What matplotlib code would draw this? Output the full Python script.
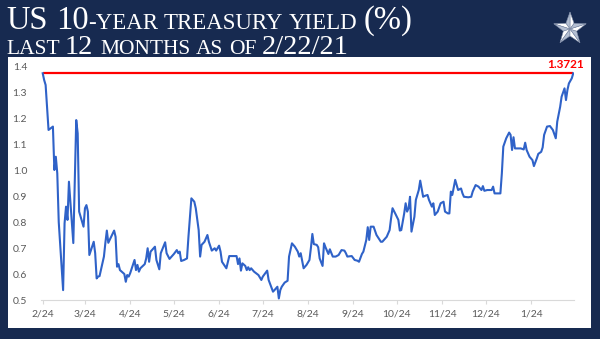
import numpy as np
import pandas as pd
import matplotlib
matplotlib.use('Agg')
import matplotlib.pyplot as plt
from matplotlib.patches import Rectangle, Polygon

# data: days after 2/24/2020 and 10-year yield (%)
start = pd.Timestamp('2020-02-24')
day_offsets = [0, 1, 2, 4, 7, 8, 9, 10, 11, 14, 15, 16, 17, 18, 21, 23, 24, 25, 28, 29,
               30, 31, 32, 35, 36, 37, 38, 39, 42, 43, 44, 45, 49, 50, 51, 52, 53, 56, 57, 58,
               59, 60, 63, 64, 65, 66, 67, 70, 71, 72, 73, 74, 77, 78, 80, 81, 84, 85, 87, 90,
               92, 93, 94, 95, 97, 99, 100, 102, 104, 105, 107, 108, 109, 111, 113, 114, 116, 118, 119, 121,
               122, 123, 126, 128, 130, 133, 134, 135, 136, 137, 139, 140, 141, 142, 143, 145, 148, 150, 151, 154,
               155, 158, 159, 161, 162, 163, 164, 166, 168, 169, 171, 173, 175, 176, 177, 179, 181, 183, 184, 185,
               186, 188, 189, 190, 192, 193, 194, 196, 197, 199, 201, 203, 205, 207, 208, 209, 212, 214, 216, 217,
               219, 220, 222, 223, 224, 225, 227, 229, 232, 233, 236, 238, 239, 240, 242, 244, 245, 246, 248, 249,
               250, 251, 252, 253, 255, 256, 258, 259, 261, 262, 264, 265, 267, 268, 269, 271, 273, 275, 276, 278,
               279, 280, 281, 283, 284, 285, 287, 288, 289, 292, 294, 295, 297, 299, 301, 302, 303, 305, 308, 309,
               310, 312, 314, 315, 316, 318, 320, 321, 322, 323, 324, 326, 328, 330, 331, 332, 334, 336, 337, 339,
               340, 342, 343, 344, 346, 348, 350, 352, 353, 355, 356, 358, 359, 360, 361, 363, 364]
yields = [1.372, 1.346, 1.327, 1.154, 1.167, 1.000, 1.051, 0.987, 0.800, 0.538, 0.795, 0.859, 0.808, 0.955, 0.719, 1.192, 1.141, 0.840, 0.782, 0.853,
          0.865, 0.840, 0.673, 0.724, 0.680, 0.583, 0.590, 0.592, 0.667, 0.720, 0.767, 0.720, 0.767, 0.743, 0.628, 0.638, 0.615, 0.600, 0.570, 0.596,
          0.590, 0.603, 0.654, 0.615, 0.635, 0.609, 0.622, 0.638, 0.660, 0.699, 0.647, 0.686, 0.705, 0.654, 0.618, 0.680, 0.722, 0.680, 0.658, 0.677,
          0.692, 0.680, 0.686, 0.650, 0.654, 0.660, 0.744, 0.891, 0.878, 0.853, 0.769, 0.667, 0.712, 0.724, 0.750, 0.724, 0.690, 0.699, 0.690, 0.709,
          0.686, 0.647, 0.622, 0.669, 0.669, 0.669, 0.638, 0.660, 0.613, 0.641, 0.631, 0.615, 0.626, 0.615, 0.622, 0.609, 0.596, 0.577, 0.590, 0.613,
          0.577, 0.532, 0.538, 0.551, 0.506, 0.538, 0.551, 0.567, 0.574, 0.667, 0.718, 0.705, 0.686, 0.667, 0.680, 0.622, 0.635, 0.654, 0.700, 0.754,
          0.715, 0.712, 0.703, 0.660, 0.631, 0.718, 0.703, 0.677, 0.695, 0.667, 0.667, 0.673, 0.692, 0.690, 0.680, 0.667, 0.669, 0.654, 0.651, 0.647,
          0.677, 0.686, 0.731, 0.780, 0.731, 0.782, 0.782, 0.750, 0.724, 0.724, 0.743, 0.769, 0.814, 0.853, 0.831, 0.808, 0.767, 0.769, 0.833, 0.872,
          0.840, 0.853, 0.897, 0.763, 0.820, 0.885, 0.923, 0.959, 0.897, 0.900, 0.904, 0.885, 0.859, 0.872, 0.827, 0.840, 0.872, 0.878, 0.840, 0.833,
          0.833, 0.917, 0.904, 0.962, 0.942, 0.923, 0.929, 0.910, 0.897, 0.895, 0.897, 0.917, 0.942, 0.936, 0.923, 0.938, 0.920, 0.923, 0.923, 0.936,
          0.910, 0.910, 0.910, 0.987, 1.090, 1.122, 1.144, 1.135, 1.077, 1.126, 1.083, 1.083, 1.083, 1.079, 1.105, 1.077, 1.051, 1.038, 1.015, 1.045,
          1.062, 1.070, 1.087, 1.135, 1.167, 1.169, 1.154, 1.122, 1.186, 1.243, 1.282, 1.314, 1.269, 1.308, 1.333, 1.353, 1.372]
latest = 1.3721
tick_dates = ['2020-02-24', '2020-03-24', '2020-04-24', '2020-05-24', '2020-06-24', '2020-07-24',
              '2020-08-24', '2020-09-24', '2020-10-24', '2020-11-24', '2020-12-24', '2021-01-24']
tick_labels = ['2/24', '3/24', '4/24', '5/24', '6/24', '7/24', '8/24', '9/24', '10/24', '11/24', '12/24', '1/24']
y_ticks = [0.5, 0.6, 0.7, 0.8, 0.9, 1.0, 1.1, 1.2, 1.3, 1.4]

dates = start + pd.to_timedelta(day_offsets, unit='D')

navy = '#172a50'
W, H = 600, 339
fig = plt.figure(figsize=(6, 3.39), dpi=100, facecolor=navy)

# background layer in pixel coordinates
bg = fig.add_axes([0, 0, 1, 1])
bg.set_xlim(0, W)
bg.set_ylim(H, 0)
bg.axis('off')
bg.add_patch(Rectangle((8, 57), 583, 271, facecolor='white', edgecolor='none'))

# star in the top right corner
cx, cy, R, r = 570, 29, 17, 7
for k in range(5):
    a = np.deg2rad(90 + 72 * k)
    outer = (cx + R * np.cos(a), cy - R * np.sin(a))
    for side, col in ((-1, '#ffffff'), (1, '#b4bfd2')):
        b = a + side * np.deg2rad(36)
        inner = (cx + r * np.cos(b), cy - r * np.sin(b))
        bg.add_patch(Polygon([(cx, cy), outer, inner], closed=True, facecolor=col,
                             edgecolor='#7d8aa5', linewidth=0.4))

# title with small caps built from pieces
renderer = fig.canvas.get_renderer()


def caps_line(x, y, tokens):
    for txt, size, space in tokens:
        t = bg.text(x, y, txt, fontsize=size, family='Liberation Serif', color='white',
                    ha='left', va='baseline')
        bb = t.get_window_extent(renderer)
        x += bb.width + (size * 100 / 72 * 0.25 if space else 0)


caps_line(6, 29, [('US', 23.5, True), ('10', 23.5, False), ('-YEAR', 16.5, True),
                  ('TREASURY', 16.5, True), ('YIELD', 16.5, True), ('(%)', 23.5, False)])
caps_line(6, 54, [('LAST', 15.5, True), ('12', 20.5, True), ('MONTHS', 15.5, True),
                  ('AS', 15.5, True), ('OF', 15.5, True), ('2/22/21', 20.5, False)])

# main chart
ax = fig.add_axes([41 / W, (H - 300) / H, 533 / W, 234 / H])
ax.patch.set_alpha(0)
ax.plot(dates, yields, color='#2f62c8', linewidth=1.5, zorder=3)
ax.hlines(latest, dates[0], dates[-1], color='#ff0000', linewidth=1.6, zorder=2)
ax.annotate(f'{latest:.4f}', xy=(dates[-1], latest), xytext=(7.5, 2.5),
            textcoords='offset points', ha='right', va='bottom', color='#ff0000',
            fontsize=8.5, fontweight='bold', family='Lato', annotation_clip=False)

ax.set_xlim(start - pd.Timedelta(days=1.17), start + pd.Timedelta(days=364.5))
ax.set_ylim(0.5, 1.4)
ax.set_xticks(pd.to_datetime(tick_dates))
ax.set_xticklabels(tick_labels)
ax.set_yticks(y_ticks)
ax.set_yticklabels([f'{v:.1f}' for v in y_ticks])
for s in ('top', 'right', 'left'):
    ax.spines[s].set_visible(False)
ax.spines['bottom'].set_color('#d9d9d9')
ax.tick_params(axis='x', length=3, color='#d9d9d9', pad=4, labelsize=7.5, labelcolor='#595959')
ax.tick_params(axis='y', length=0, pad=10, labelsize=7.5, labelcolor='#595959')
for lab in ax.get_xticklabels() + ax.get_yticklabels():
    lab.set_family('Lato')

fig.savefig('out.png', dpi=100, facecolor=navy)
